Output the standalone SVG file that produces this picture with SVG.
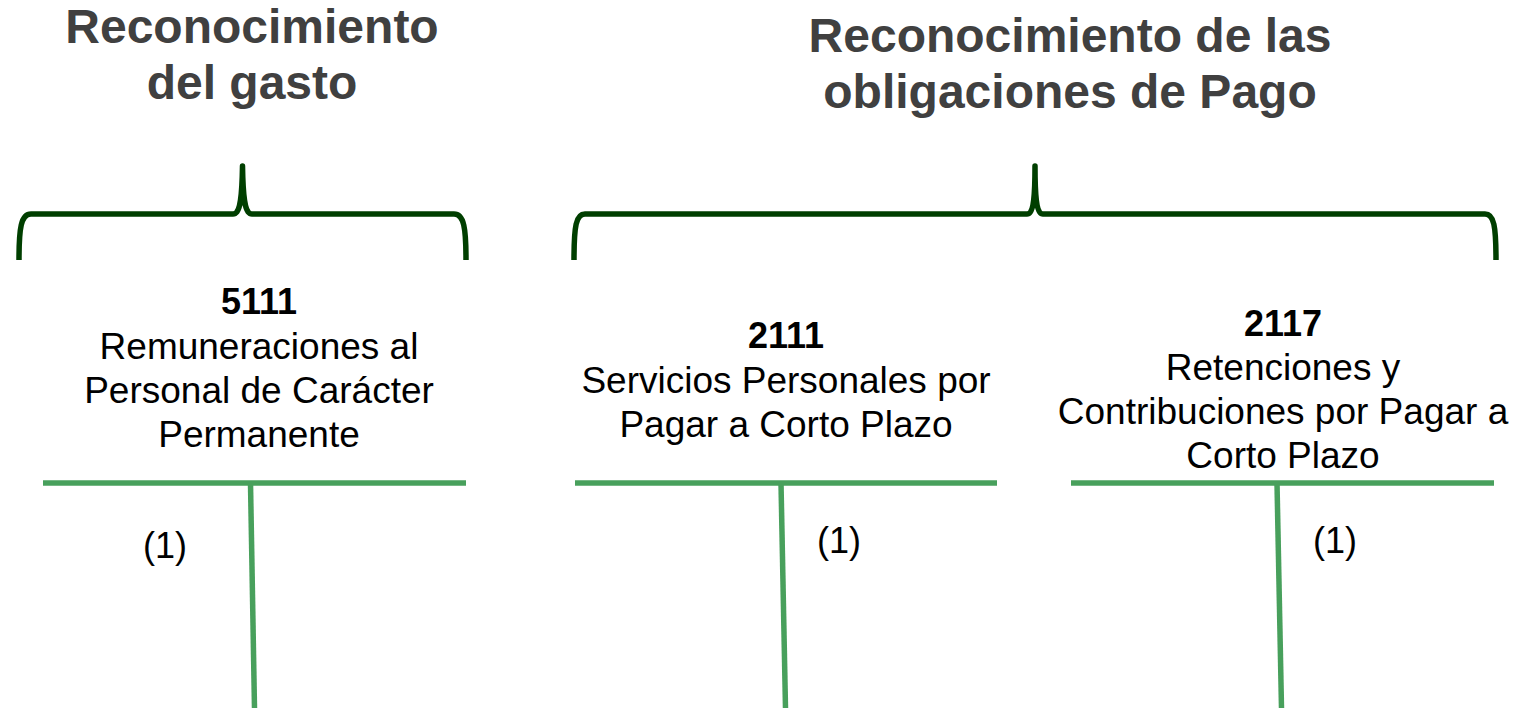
<svg xmlns="http://www.w3.org/2000/svg" width="1514" height="708" viewBox="0 0 1514 708">
  <style>
    .title { font-family: "Liberation Sans", Arial, sans-serif; font-weight: bold; font-size: 48px; fill: #404040; text-anchor: middle; }
    .code { font-family: "Liberation Sans", Arial, sans-serif; font-weight: bold; font-size: 36px; fill: #000; text-anchor: middle; }
    .name { font-family: "Liberation Sans", Arial, sans-serif; font-size: 37px; fill: #000; text-anchor: middle; }
    .ref { font-family: "Liberation Sans", Arial, sans-serif; font-size: 36px; fill: #000; text-anchor: middle; }
    .brace { fill: none; stroke: #003f00; stroke-width: 5.5; stroke-linejoin: round; }
    .tline { fill: none; stroke: #48a05c; stroke-width: 5.5; }
  </style>
  <rect width="1514" height="708" fill="#ffffff"/>

  <g id="title-gasto">
    <text class="title" x="252" y="43">Reconocimiento</text>
    <text class="title" x="252" y="99">del gasto</text>
  </g>
  <g id="title-obligaciones">
    <text class="title" x="1070" y="52">Reconocimiento de las</text>
    <text class="title" x="1070" y="108">obligaciones de Pago</text>
  </g>

  <g id="brace-gasto">
    <path class="brace" d="M19,260 C19,228 21,214 31,214 L233,214 C240,214 242,200 242.5,166 C243,200 245,214 252,214 L454,214 C464,214 466,228 466,260"/>
  </g>
  <g id="brace-obligaciones">
    <path class="brace" d="M574,260 C574,226 576,214 585,214 L1027,214 C1033,214 1035,200 1035,166 C1035,200 1037,214 1043,214 L1485,214 C1494,214 1496,226 1496,260"/>
  </g>

  <g id="cuenta-5111">
    <text class="code" x="259" y="314">5111</text>
    <text class="name" x="259" y="359">Remuneraciones al</text>
    <text class="name" x="259" y="403">Personal de Carácter</text>
    <text class="name" x="259" y="447">Permanente</text>
    <text class="ref" x="165" y="558">(1)</text>
  </g>
  <g id="cuenta-2111">
    <text class="code" x="786" y="348">2111</text>
    <text class="name" x="786" y="393">Servicios Personales por</text>
    <text class="name" x="786" y="437">Pagar a Corto Plazo</text>
    <text class="ref" x="839" y="553">(1)</text>
  </g>
  <g id="cuenta-2117">
    <text class="code" x="1283" y="336">2117</text>
    <text class="name" x="1283" y="380">Retenciones y</text>
    <text class="name" x="1283" y="424">Contribuciones por Pagar a</text>
    <text class="name" x="1283" y="468">Corto Plazo</text>
    <text class="ref" x="1335" y="553">(1)</text>
  </g>

  <g id="connectors">
    <line class="tline" x1="43" y1="483" x2="466" y2="483"/>
    <line class="tline" x1="250.5" y1="483" x2="254.5" y2="708"/>
    <line class="tline" x1="575" y1="483" x2="997" y2="483"/>
    <line class="tline" x1="781" y1="483" x2="785.5" y2="708"/>
    <line class="tline" x1="1071" y1="483" x2="1494" y2="483"/>
    <line class="tline" x1="1277" y1="483" x2="1281.5" y2="708"/>
  </g>
</svg>
